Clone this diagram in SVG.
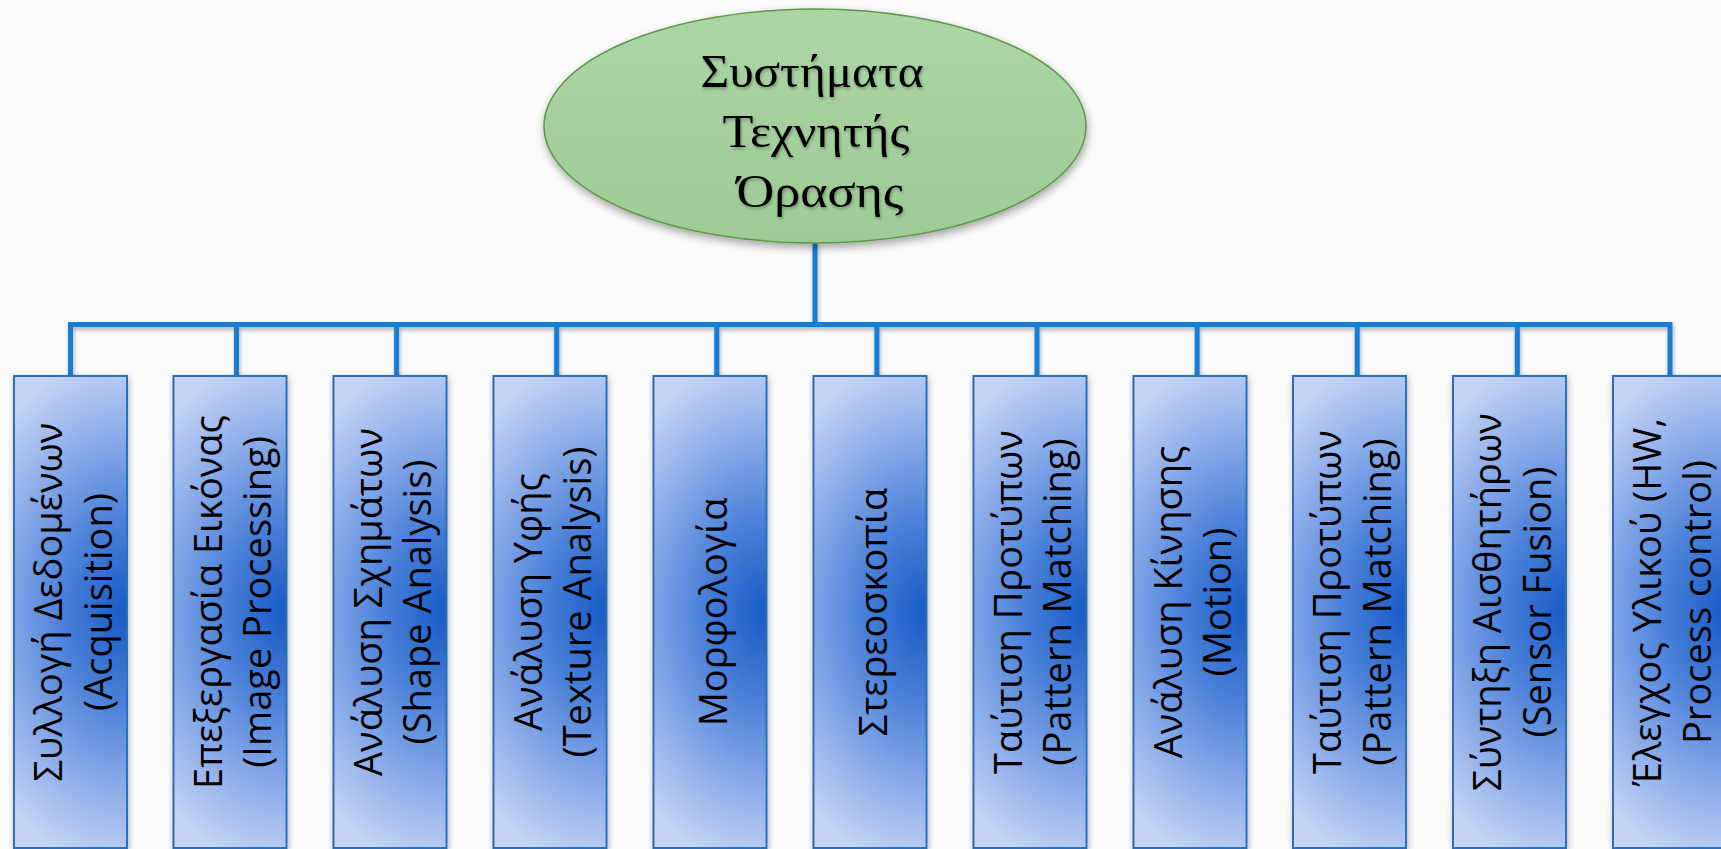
<svg xmlns="http://www.w3.org/2000/svg" width="1721" height="849" viewBox="0 0 1721 849">
<defs>
<style>
.bx{stroke:#2a6fba;stroke-width:2;fill:url(#boxg);filter:url(#bshadow)}
.bt{font-family:"Open Sans","Noto Sans",sans-serif;font-size:38px;fill:#000;text-anchor:middle}
.ct{font-family:"Liberation Serif","DejaVu Serif",serif;font-size:46px;fill:#000;text-anchor:middle;filter:url(#tshadow)}
.cn{stroke:#127ed4;stroke-width:5;fill:none;stroke-linecap:square;stroke-linejoin:miter}
</style>
<radialGradient id="boxg" cx="1" cy="0.5" r="0.55" fx="1" fy="0.5" gradientTransform="translate(1 0.5) scale(2.9 1) translate(-1 -0.5)">
<stop offset="0" stop-color="#175ac5"/>
<stop offset="0.35" stop-color="#4a80d8"/>
<stop offset="0.7" stop-color="#8eaeea"/>
<stop offset="1" stop-color="#c6d5f4"/>
</radialGradient>
<linearGradient id="ellg" x1="0" y1="0" x2="0" y2="1">
<stop offset="0" stop-color="#acd5a5"/>
<stop offset="1" stop-color="#9ecb96"/>
</linearGradient>
<filter id="bshadow" x="-20%" y="-5%" width="140%" height="110%">
<feGaussianBlur in="SourceAlpha" stdDeviation="3"/>
<feOffset dx="1" dy="2" result="b"/>
<feComponentTransfer><feFuncA type="linear" slope="0.3"/></feComponentTransfer>
<feMerge><feMergeNode/><feMergeNode in="SourceGraphic"/></feMerge>
</filter>
<filter id="eshadow" x="-10%" y="-10%" width="120%" height="130%">
<feGaussianBlur in="SourceAlpha" stdDeviation="4"/>
<feOffset dx="1" dy="4" result="b"/>
<feComponentTransfer><feFuncA type="linear" slope="0.35"/></feComponentTransfer>
<feMerge><feMergeNode/><feMergeNode in="SourceGraphic"/></feMerge>
</filter>
<filter id="cshadow" x="-5%" y="-50%" width="110%" height="200%">
<feGaussianBlur in="SourceAlpha" stdDeviation="2"/>
<feOffset dx="1" dy="3" result="b"/>
<feComponentTransfer><feFuncA type="linear" slope="0.3"/></feComponentTransfer>
<feMerge><feMergeNode/><feMergeNode in="SourceGraphic"/></feMerge>
</filter>
<filter id="tshadow" x="-10%" y="-20%" width="120%" height="150%">
<feGaussianBlur in="SourceAlpha" stdDeviation="1.5"/>
<feOffset dx="1" dy="2" result="b"/>
<feComponentTransfer><feFuncA type="linear" slope="0.3"/></feComponentTransfer>
<feMerge><feMergeNode/><feMergeNode in="SourceGraphic"/></feMerge>
</filter>
</defs>
<rect x="0" y="0" width="1721" height="849" fill="#fbfbfb"/>

<g id="connectors" filter="url(#cshadow)">
<path class="cn" d="M815 243 V324.5"/>
<path class="cn" d="M70.5 376 V324.5 H1670 V376"/>
<path class="cn" d="M236.5 324.5 V376 M396.6 324.5 V376 M556.7 324.5 V376 M716.8 324.5 V376 M876.9 324.5 V376 M1037 324.5 V376 M1197.1 324.5 V376 M1357.2 324.5 V376 M1517.3 324.5 V376"/>
</g>

<g id="root">
<ellipse cx="815" cy="126" rx="271" ry="117" fill="url(#ellg)" stroke="#5e9a4b" stroke-width="1.5" filter="url(#eshadow)"/>
<text class="ct" x="812" y="87" textLength="223" lengthAdjust="spacingAndGlyphs">Συστήματα</text>
<text class="ct" x="816" y="147" textLength="187" lengthAdjust="spacingAndGlyphs">Τεχνητής</text>
<text class="ct" x="820" y="206.5" textLength="167" lengthAdjust="spacingAndGlyphs">Όρασης</text>
</g>

<g id="n1">
<rect class="bx" x="14" y="376" width="113" height="472"/>
<g transform="translate(70.5 602) rotate(-90)"><text class="bt" y="-8.5">Συλλογή Δεδομένων</text><text class="bt" y="41">(Acquisition)</text></g>
</g>
<g id="n2">
<rect class="bx" x="173.5" y="376" width="113" height="472"/>
<g transform="translate(230 602) rotate(-90)"><text class="bt" y="-8.5">Επεξεργασία Εικόνας</text><text class="bt" y="41">(Image Processing)</text></g>
</g>
<g id="n3">
<rect class="bx" x="333.5" y="376" width="113" height="472"/>
<g transform="translate(390 602) rotate(-90)"><text class="bt" y="-8.5">Ανάλυση Σχημάτων</text><text class="bt" y="41">(Shape Analysis)</text></g>
</g>
<g id="n4">
<rect class="bx" x="493.5" y="376" width="113" height="472"/>
<g transform="translate(550 602) rotate(-90)"><text class="bt" y="-8.5">Ανάλυση Υφής</text><text class="bt" y="41">(Texture Analysis)</text></g>
</g>
<g id="n5">
<rect class="bx" x="653.5" y="376" width="113" height="472"/>
<g transform="translate(710 612) rotate(-90)"><text class="bt" y="17">Μορφολογία</text></g>
</g>
<g id="n6">
<rect class="bx" x="813.5" y="376" width="113" height="472"/>
<g transform="translate(870 612) rotate(-90)"><text class="bt" y="17">Στερεοσκοπία</text></g>
</g>
<g id="n7">
<rect class="bx" x="973.5" y="376" width="113" height="472"/>
<g transform="translate(1030 602) rotate(-90)"><text class="bt" y="-8.5">Ταύτιση Προτύπων</text><text class="bt" y="41">(Pattern Matching)</text></g>
</g>
<g id="n8">
<rect class="bx" x="1133.5" y="376" width="113" height="472"/>
<g transform="translate(1190 602) rotate(-90)"><text class="bt" y="-8.5">Ανάλυση Κίνησης</text><text class="bt" y="41">(Motion)</text></g>
</g>
<g id="n9">
<rect class="bx" x="1293" y="376" width="113" height="472"/>
<g transform="translate(1349.5 602) rotate(-90)"><text class="bt" y="-8.5">Ταύτιση Προτύπων</text><text class="bt" y="41">(Pattern Matching)</text></g>
</g>
<g id="n10">
<rect class="bx" x="1453" y="376" width="113" height="472"/>
<g transform="translate(1509.5 602) rotate(-90)"><text class="bt" y="-8.5">Σύντηξη Αισθητήρων</text><text class="bt" y="41">(Sensor Fusion)</text></g>
</g>
<g id="n11">
<rect class="bx" x="1613" y="376" width="113" height="472"/>
<g transform="translate(1669.5 602) rotate(-90)"><text class="bt" y="-8.5">Έλεγχος Υλικού (HW,</text><text class="bt" y="41">Process control)</text></g>
</g>
</svg>
